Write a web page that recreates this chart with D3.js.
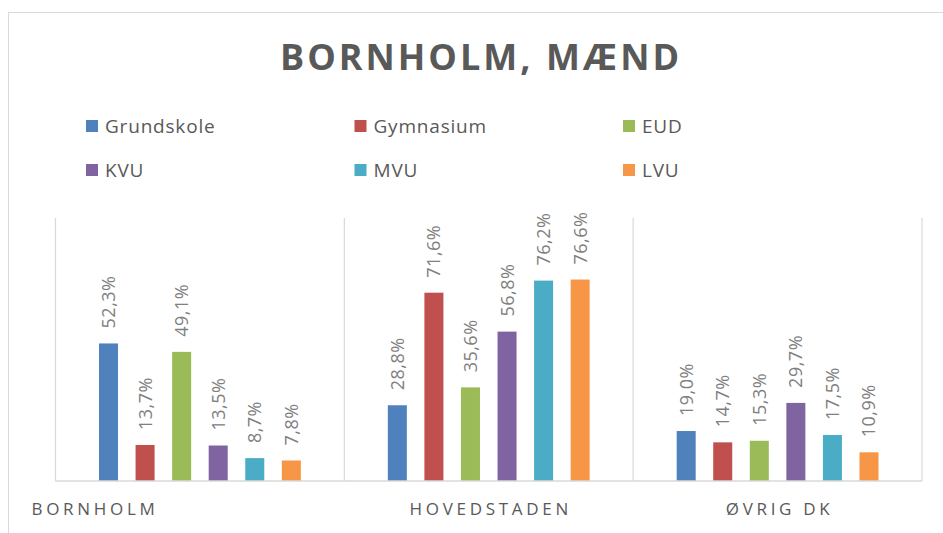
<!DOCTYPE html>
<html>
<head>
<meta charset="utf-8">
<script src="https://cdn.jsdelivr.net/npm/d3@7"></script>
<style>
  body { margin: 0; background: #fff; }
  svg { display: block; }
  text { font-family: "Open Sans", sans-serif; }
</style>
</head>
<body>
<svg id="chart" width="943" height="533"></svg>
<script>
var categories = ["BORNHOLM", "HOVEDSTADEN", "ØVRIG DK"];
var series = ["Grundskole", "Gymnasium", "EUD", "KVU", "MVU", "LVU"];
var colors = ["#4F81BD", "#C0504D", "#9BBB59", "#8064A2", "#4BACC6", "#F79646"];
var bornholm = [52.3, 13.7, 49.1, 13.5, 8.7, 7.8];
var hovedstaden = [28.8, 71.6, 35.6, 56.8, 76.2, 76.6];
var oevrigDK = [19.0, 14.7, 15.3, 29.7, 17.5, 10.9];
var values = [bornholm, hovedstaden, oevrigDK];

var svg_w = 943, svg_h = 533;
var plot = {left: 55.5, right: 922, top: 218, bottom: 481};

var svg = d3.select('#chart');

// chart frame
svg.append('rect')
    .attr('x', 8.5).attr('y', 12.5)
    .attr('width', 1000).attr('height', 600)
    .attr('fill', '#fff')
    .attr('stroke', '#d9d9d9')
    .attr('stroke-width', 1);

// title
svg.append('text')
    .attr('x', 481)
    .attr('y', 70)
    .attr('text-anchor', 'middle')
    .attr('font-size', 36)
    .attr('font-weight', 'bold')
    .attr('letter-spacing', 3)
    .attr('fill', '#595959')
    .text('BORNHOLM, MÆND');

// legend, 3 columns x 2 rows
var legend = svg.append('g').selectAll('g')
    .data(series)
    .enter().append('g')
    .attr('transform', (d, i) => 'translate(' + (86 + (i % 3) * 268.5) + ',' + (120 + Math.floor(i / 3) * 44) + ')');
legend.append('rect')
    .attr('width', 12).attr('height', 12)
    .attr('fill', (d, i) => colors[i]);
legend.append('text')
    .attr('x', 19)
    .attr('y', 13)
    .attr('font-size', 19)
    .attr('letter-spacing', 0.8)
    .attr('fill', '#595959')
    .text(d => d);

var x0 = d3.scaleBand()
    .domain(categories)
    .range([plot.left, plot.right])
    .padding(0);
var x1 = d3.scaleBand()
    .domain(series)
    .range([0, x0.bandwidth()])
    .paddingInner(0.48)
    .paddingOuter(1.19);
var y = d3.scaleLinear()
    .domain([0, 100])
    .range([plot.bottom, plot.top]);

// category separators
var seps = categories.map(c => x0(c)).concat([plot.right]);
svg.append('g').selectAll('line')
    .data(seps)
    .enter().append('line')
    .attr('x1', d => d).attr('x2', d => d)
    .attr('y1', plot.top).attr('y2', plot.bottom)
    .attr('stroke', '#d9d9d9')
    .attr('stroke-width', 1.2);

// bars
var groups = svg.append('g').selectAll('g')
    .data(categories)
    .enter().append('g')
    .attr('transform', d => 'translate(' + x0(d) + ',0)');

groups.selectAll('rect')
    .data((d, ci) => values[ci].map((v, si) => ({s: series[si], v: v, c: colors[si]})))
    .enter().append('rect')
    .attr('x', d => x1(d.s))
    .attr('y', d => y(d.v))
    .attr('width', x1.bandwidth())
    .attr('height', d => y(0) - y(d.v))
    .attr('fill', d => d.c);

// data labels, rotated
var fmt = v => v.toFixed(1).replace('.', ',') + '%';
groups.selectAll('text')
    .data((d, ci) => values[ci].map((v, si) => ({s: series[si], v: v})))
    .enter().append('text')
    .attr('transform', d => 'translate(' + (x1(d.s) + x1.bandwidth() / 2) + ',' + (y(d.v) - 15) + ') rotate(-90)')
    .attr('dy', '0.36em')
    .attr('font-size', 18)
    .attr('letter-spacing', 0.5)
    .attr('fill', '#808080')
    .text(d => fmt(d.v));

// axis baseline
svg.append('line')
    .attr('x1', plot.left).attr('x2', plot.right)
    .attr('y1', plot.bottom).attr('y2', plot.bottom)
    .attr('stroke', '#d9d9d9')
    .attr('stroke-width', 1.5);

// category labels (first one sits left, as in the source sheet)
svg.append('g').selectAll('text')
    .data(categories)
    .enter().append('text')
    .attr('x', (d, i) => i == 0 ? plot.left - 24 : x0(d) + x0.bandwidth() / 2 + 2)
    .attr('y', 515)
    .attr('text-anchor', (d, i) => i == 0 ? 'start' : 'middle')
    .attr('font-size', 17)
    .attr('letter-spacing', 3.7)
    .attr('fill', '#595959')
    .text(d => d);
</script>
</body>
</html>
